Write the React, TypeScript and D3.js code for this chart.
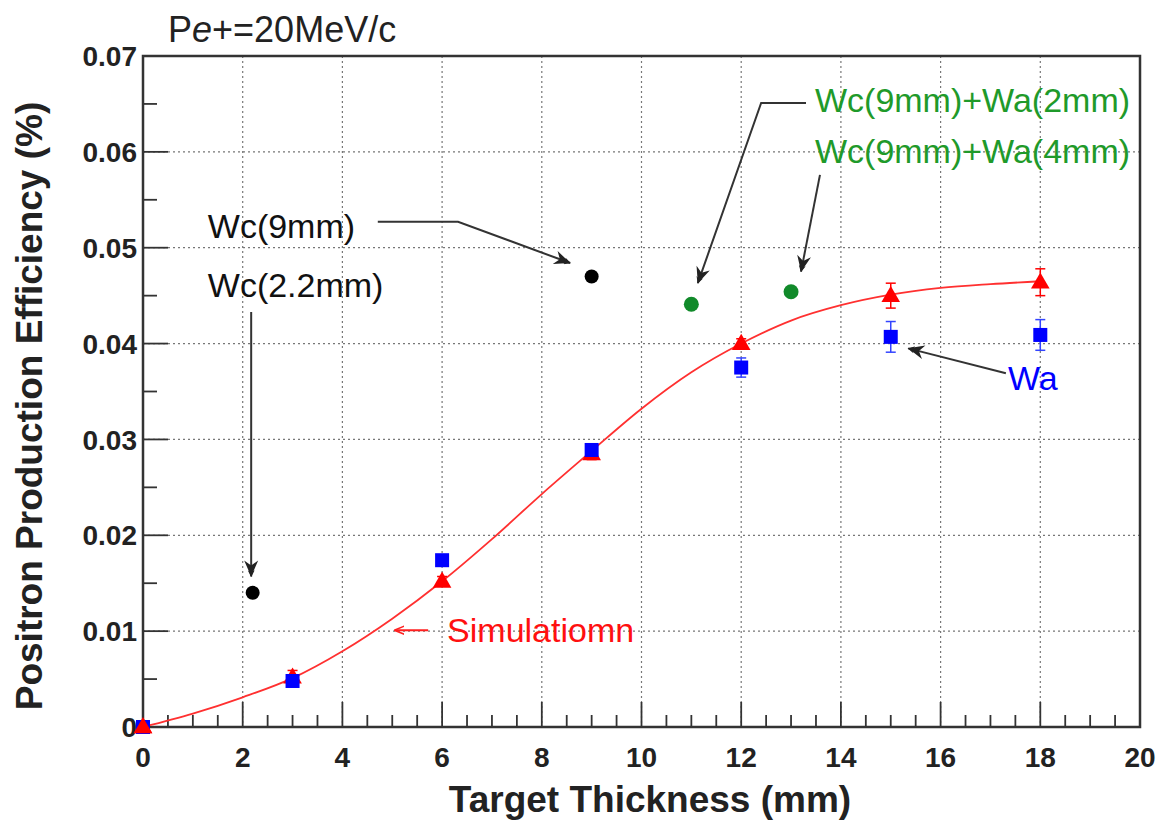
import * as d3 from "d3";

// simulation (red triangles)
const simX = [0, 3, 6, 9, 12, 15, 18];
const simY = [0, 0.0052, 0.0152, 0.0285, 0.04, 0.045, 0.0464];
const simErr = [0, 0.0007, 0.0005, 0.0006, 0.0005, 0.0013, 0.0014];

// smooth simulation curve
const curveX = [0, 1, 2, 3, 4, 5, 6, 7, 8, 9, 10, 11, 12, 13, 14, 15, 16, 17, 18];
const curveY = [0, 0.0014, 0.0031, 0.0051, 0.0079, 0.0113, 0.0152, 0.0196, 0.0243, 0.0288, 0.0332, 0.037, 0.04, 0.0424, 0.044, 0.0451, 0.0458, 0.0462, 0.0465];

// Wa (blue squares)
const waX = [0, 3, 6, 9, 12, 15, 18];
const waY = [0, 0.0048, 0.0174, 0.0289, 0.0375, 0.0407, 0.0409];
const waErr = [0, 0.0004, 0.0005, 0.0005, 0.001, 0.0016, 0.0016];

// Wc (black circles)
const wcX = [2.2, 9];
const wcY = [0.014, 0.047];

// Wc + Wa (green circles)
const wcwaX = [11, 13];
const wcwaY = [0.0441, 0.0454];
const wcwaErr = [0.0002, 0.0004];

const xTicks = [0, 2, 4, 6, 8, 10, 12, 14, 16, 18, 20];
const yTicks = [0, 0.01, 0.02, 0.03, 0.04, 0.05, 0.06, 0.07];
const yTickLabels = ["0", "0.01", "0.02", "0.03", "0.04", "0.05", "0.06", "0.07"];

// annotations, in data coordinates
const labels = [
  { text: "Wc(9mm)", x: 1.3, y: 0.051, color: "#111" },
  { text: "Wc(2.2mm)", x: 1.3, y: 0.0449, color: "#111" },
  { text: "Wc(9mm)+Wa(2mm)", x: 13.48, y: 0.0642, color: "#1f9a2a" },
  { text: "Wc(9mm)+Wa(4mm)", x: 13.48, y: 0.0588, color: "#1f9a2a" },
  { text: "Wa", x: 17.35, y: 0.0352, color: "#0000ff" },
  { text: "Simulatiomn", x: 6.1, y: 0.0089, color: "#ff1010" },
];

const arrows = [
  { pts: [[4.71, 0.0527], [6.32, 0.0527], [8.57, 0.0484]], color: "#333" },
  { pts: [[2.17, 0.0433], [2.17, 0.0157]], color: "#333" },
  { pts: [[13.3, 0.0651], [12.4, 0.0651], [11.13, 0.0463]], color: "#333" },
  { pts: [[13.58, 0.0576], [13.2, 0.0475]], color: "#333" },
  { pts: [[17.31, 0.0369], [15.35, 0.0395]], color: "#333" },
  { pts: [[5.72, 0.0101], [5.06, 0.0101]], color: "#ff2020" },
];

const W = 1165;
const H = 824;
const margin = { top: 56, right: 25, bottom: 97, left: 143 };

export default function App() {
  const innerW = W - margin.left - margin.right;
  const innerH = H - margin.top - margin.bottom;

  const x = d3.scaleLinear().domain([0, 20]).range([0, innerW]);
  const y = d3.scaleLinear().domain([0, 0.07]).range([innerH, 0]);

  const line = d3
    .line<number>()
    .x((_, i) => x(curveX[i]))
    .y((d) => y(d))
    .curve(d3.curveMonotoneX);

  const arrowLine = d3
    .line<number[]>()
    .x((d) => x(d[0]))
    .y((d) => y(d[1]));

  const xMinor = d3.range(0, 20.01, 0.5);
  const yMinor = d3.range(0.005, 0.07, 0.01);
  const tri = d3.symbol(d3.symbolTriangle, 150)();

  const font = "'Liberation Sans', Arial, sans-serif";

  const errBar = (cx: number, cy: number, e: number, color: string, key: string) => {
    if (!e) return null;
    const px = x(cx);
    return (
      <g key={key} stroke={color} strokeWidth={1.5}>
        <line x1={px} x2={px} y1={y(cy + e)} y2={y(cy - e)} />
        <line x1={px - 5} x2={px + 5} y1={y(cy + e)} y2={y(cy + e)} />
        <line x1={px - 5} x2={px + 5} y1={y(cy - e)} y2={y(cy - e)} />
      </g>
    );
  };

  return (
    <div style={{ position: "absolute", left: 0, top: 0 }}>
      <svg width={W} height={H} style={{ display: "block", background: "#fff" }}>
        <defs>
          <marker id="ah" viewBox="0 0 10 10" refX="9" refY="5" markerWidth="7" markerHeight="7" orient="auto" markerUnits="userSpaceOnUse">
            <path d="M0,0 L10,5 L0,10 L3,5 z" fill="#222" />
          </marker>
          <marker id="ahr" viewBox="0 0 10 10" refX="9" refY="5" markerWidth="10" markerHeight="10" orient="auto" markerUnits="userSpaceOnUse">
            <path d="M0,1 L10,5 L0,9" fill="none" stroke="#ff2020" strokeWidth="1.5" />
          </marker>
        </defs>

        <text x={168} y={42} fontFamily={font} fontSize={36} fill="#222">
          P<tspan fontStyle="italic">e</tspan>+=20MeV/c
        </text>

        <g transform={`translate(${margin.left},${margin.top})`}>
          {/* grid */}
          {xTicks.slice(1, -1).map((t) => (
            <line key={"gx" + t} x1={x(t)} x2={x(t)} y1={0} y2={innerH} stroke="#777" strokeWidth={1.2} strokeDasharray="2,3" />
          ))}
          {yTicks.slice(1, -1).map((t) => (
            <line key={"gy" + t} x1={0} x2={innerW} y1={y(t)} y2={y(t)} stroke="#777" strokeWidth={1.2} strokeDasharray="2,3" />
          ))}

          {/* ticks */}
          {xMinor.map((t) => (
            <line key={"tx" + t} x1={x(t)} x2={x(t)} y1={innerH} y2={innerH - (t % 2 === 0 ? 25 : 12)} stroke="#333" strokeWidth={1.8} />
          ))}
          {yTicks.map((t) => (
            <line key={"ty" + t} x1={0} x2={25} y1={y(t)} y2={y(t)} stroke="#333" strokeWidth={1.8} />
          ))}
          {yMinor.map((t) => (
            <line key={"tym" + t} x1={0} x2={14} y1={y(t)} y2={y(t)} stroke="#333" strokeWidth={1.8} />
          ))}

          {/* frame */}
          <rect x={0} y={0} width={innerW} height={innerH} fill="none" stroke="#333" strokeWidth={2.5} />

          {/* tick labels */}
          {xTicks.map((t) => (
            <text key={"lx" + t} x={x(t)} y={innerH + 40} textAnchor="middle" fontFamily={font} fontWeight="bold" fontSize={28} fill="#222">
              {t}
            </text>
          ))}
          {yTicks.map((t, i) => (
            <text key={"ly" + t} x={-6} y={y(t)} dy="0.36em" textAnchor="end" fontFamily={font} fontWeight="bold" fontSize={28} fill="#222">
              {yTickLabels[i]}
            </text>
          ))}

          {/* simulation curve */}
          <path d={line(curveY) ?? ""} fill="none" stroke="#ff3030" strokeWidth={1.8} />

          {/* simulation points */}
          {simX.map((v, i) => errBar(v, simY[i], simErr[i], "#ff0000", "es" + i))}
          {simX.map((v, i) => (
            <path key={"s" + i} d={tri ?? ""} transform={`translate(${x(v)},${y(simY[i]) + 1})`} fill="#ff0000" />
          ))}

          {/* Wa points */}
          {waX.map((v, i) => errBar(v, waY[i], waErr[i], "#3344ff", "ew" + i))}
          {waX.map((v, i) =>
            i === 0 ? null : (
              <rect key={"w" + i} x={x(v) - 7} y={y(waY[i]) - 7} width={14} height={14} fill="#0000ff" />
            )
          )}
          <rect x={x(waX[0]) - 7} y={y(waY[0]) - 7} width={14} height={14} fill="#0000ff" />
          <path d={tri ?? ""} transform={`translate(${x(simX[0])},${y(simY[0]) + 1})`} fill="#ff0000" />

          {/* Wc points */}
          {wcX.map((v, i) => (
            <circle key={"c" + i} cx={x(v)} cy={y(wcY[i])} r={7} fill="#000" />
          ))}

          {/* Wc + Wa points */}
          {wcwaX.map((v, i) => errBar(v, wcwaY[i], wcwaErr[i], "#118a2a", "eg" + i))}
          {wcwaX.map((v, i) => (
            <circle key={"g" + i} cx={x(v)} cy={y(wcwaY[i])} r={7.5} fill="#118a2a" />
          ))}

          {/* annotation arrows */}
          {arrows.map((a, i) => (
            <path
              key={"a" + i}
              d={arrowLine(a.pts) ?? ""}
              fill="none"
              stroke={a.color}
              strokeWidth={2}
              markerEnd={a.color === "#333" ? "url(#ah)" : "url(#ahr)"}
            />
          ))}
          {arrows.slice(0, 5).map((a, i) => {
            const p = a.pts[a.pts.length - 1];
            const q = a.pts[a.pts.length - 2];
            const ang = (Math.atan2(y(p[1]) - y(q[1]), x(p[0]) - x(q[0])) * 180) / Math.PI;
            return (
              <path
                key={"h" + i}
                d="M0,0 L-16,-7 L-11,0 L-16,7 Z"
                transform={`translate(${x(p[0])},${y(p[1])}) rotate(${ang})`}
                fill="#222"
              />
            );
          })}

          {/* annotation labels */}
          {labels.map((l) => (
            <text key={l.text + l.y} x={x(l.x)} y={y(l.y)} fontFamily={font} fontSize={34} fill={l.color}>
              {l.text}
            </text>
          ))}
        </g>

        {/* axis titles */}
        <text x={650} y={812} textAnchor="middle" fontFamily={font} fontWeight="bold" fontSize={37} fill="#222">
          Target Thickness (mm)
        </text>
        <text
          transform="translate(42,406) rotate(-90)"
          textAnchor="middle"
          fontFamily={font}
          fontWeight="bold"
          fontSize={37}
          fill="#222"
        >
          Positron Production Efficiency (%)
        </text>
      </svg>
    </div>
  );
}
